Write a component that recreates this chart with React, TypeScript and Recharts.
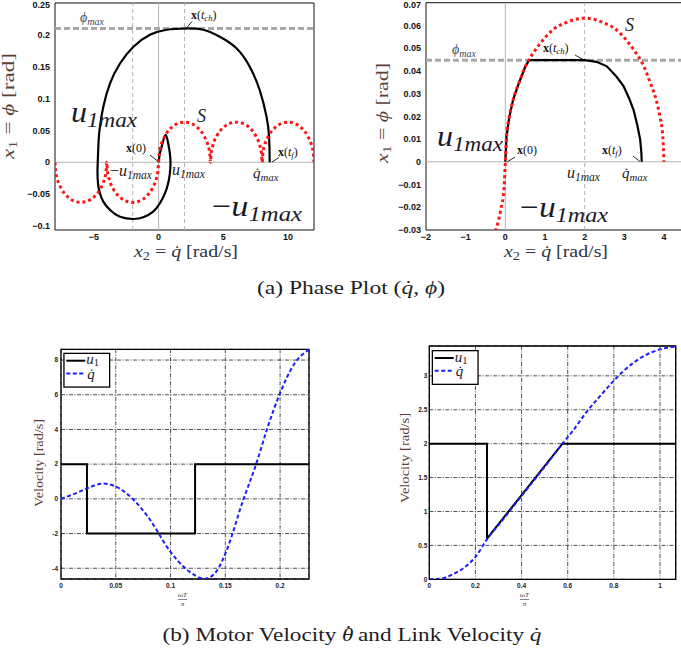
import React from 'react';
import {
  ComposedChart,
  Line,
  XAxis,
  YAxis,
  ReferenceLine,
  ReferenceArea,
  CartesianGrid,
} from 'recharts';

// ---------- (a) phase plane, large swing: x2 = q̇ [rad/s], x1 = ϕ [rad] ----------
const leftQdTicks = [-5, 0, 5, 10];
const leftPhiTicks = [-0.1, -0.05, 0, 0.05, 0.1, 0.15, 0.2, 0.25];
const LEFT_QD_DOMAIN = [-8, 12];
const LEFT_PHI_DOMAIN = [-0.1063, 0.25];
const LEFT_PHI_MAX = 0.21;
const LEFT_GUIDES_QD = [-2, 2];

// switching curve S (chain of arches through the zero crossings)
const leftSwitchCurve = [
  { qd: -8, phi: 0 }, { qd: -7.95, phi: -0.014 }, { qd: -7.8, phi: -0.0275 }, { qd: -7.5, phi: -0.0417 },
  { qd: -7, phi: -0.0546 }, { qd: -6.5, phi: -0.061 }, { qd: -6, phi: -0.063 }, { qd: -5.5, phi: -0.061 },
  { qd: -5, phi: -0.0546 }, { qd: -4.5, phi: -0.0417 }, { qd: -4.2, phi: -0.0275 }, { qd: -4.05, phi: -0.014 },
  { qd: -4, phi: 0 },
  { qd: -3.95, phi: -0.014 }, { qd: -3.8, phi: -0.0275 }, { qd: -3.5, phi: -0.0417 }, { qd: -3, phi: -0.0546 },
  { qd: -2.5, phi: -0.061 }, { qd: -2, phi: -0.063 }, { qd: -1.5, phi: -0.061 }, { qd: -1, phi: -0.0546 },
  { qd: -0.5, phi: -0.0417 }, { qd: -0.2, phi: -0.0275 }, { qd: -0.05, phi: -0.014 },
  { qd: 0, phi: 0 },
  { qd: 0.05, phi: 0.014 }, { qd: 0.2, phi: 0.0275 }, { qd: 0.5, phi: 0.0417 }, { qd: 1, phi: 0.0546 },
  { qd: 1.5, phi: 0.061 }, { qd: 2, phi: 0.063 }, { qd: 2.5, phi: 0.061 }, { qd: 3, phi: 0.0546 },
  { qd: 3.5, phi: 0.0417 }, { qd: 3.8, phi: 0.0275 }, { qd: 3.95, phi: 0.014 },
  { qd: 4, phi: 0 },
  { qd: 4.05, phi: 0.014 }, { qd: 4.2, phi: 0.0275 }, { qd: 4.5, phi: 0.0417 }, { qd: 5, phi: 0.0546 },
  { qd: 5.5, phi: 0.061 }, { qd: 6, phi: 0.063 }, { qd: 6.5, phi: 0.061 }, { qd: 7, phi: 0.0546 },
  { qd: 7.5, phi: 0.0417 }, { qd: 7.8, phi: 0.0275 }, { qd: 7.95, phi: 0.014 },
  { qd: 8, phi: 0 },
  { qd: 8.05, phi: 0.014 }, { qd: 8.2, phi: 0.0275 }, { qd: 8.5, phi: 0.0417 }, { qd: 9, phi: 0.0546 },
  { qd: 9.5, phi: 0.061 }, { qd: 10, phi: 0.063 }, { qd: 10.5, phi: 0.061 }, { qd: 11, phi: 0.0546 },
  { qd: 11.5, phi: 0.0417 }, { qd: 11.8, phi: 0.0275 }, { qd: 11.95, phi: 0.014 },
  { qd: 12, phi: 0 },
];

// optimal trajectory from x(0) through x(t_ch) to x(t_f)
const leftTrajectory = [
  { qd: 0, phi: 0 }, { qd: 0.1, phi: 0.014 }, { qd: 0.31, phi: 0.03 }, { qd: 0.54, phi: 0.0429 },
  { qd: 0.74, phi: 0.0298 }, { qd: 0.87, phi: 0.0141 }, { qd: 0.92, phi: -0.0016 }, { qd: 0.87, phi: -0.0173 },
  { qd: 0.74, phi: -0.033 }, { qd: 0.49, phi: -0.0487 }, { qd: 0.1, phi: -0.0644 }, { qd: -0.42, phi: -0.0775 },
  { qd: -1.19, phi: -0.0864 }, { qd: -1.96, phi: -0.089 }, { qd: -2.98, phi: -0.0854 }, { qd: -3.75, phi: -0.0749 },
  { qd: -4.27, phi: -0.0618 }, { qd: -4.53, phi: -0.0487 }, { qd: -4.68, phi: -0.033 }, { qd: -4.72, phi: -0.015 },
  { qd: -4.7, phi: 0 }, { qd: -4.63, phi: 0.035 }, { qd: -4.53, phi: 0.056 }, { qd: -4.27, phi: 0.087 },
  { qd: -3.75, phi: 0.124 }, { qd: -2.98, phi: 0.155 }, { qd: -1.96, phi: 0.181 }, { qd: -0.67, phi: 0.2 },
  { qd: 0.62, phi: 0.208 }, { qd: 2.03, phi: 0.21 }, { qd: 3.44, phi: 0.208 }, { qd: 4.73, phi: 0.197 },
  { qd: 6.01, phi: 0.179 }, { qd: 7.04, phi: 0.15 }, { qd: 7.81, phi: 0.113 }, { qd: 8.33, phi: 0.072 },
  { qd: 8.53, phi: 0.04 }, { qd: 8.58, phi: 0 },
];

// ---------- (a) phase plane, small swing ----------
const rightQdTicks = [-2, -1, 0, 1, 2, 3, 4];
const rightPhiTicks = [-0.03, -0.02, -0.01, 0, 0.01, 0.02, 0.03, 0.04, 0.05, 0.06, 0.07];
const RIGHT_QD_DOMAIN = [-2, 4.5];
const RIGHT_PHI_DOMAIN = [-0.03, 0.07];
const RIGHT_PHI_MAX = 0.0447;
const RIGHT_GUIDE_QD = 2;

const rightSwitchCurve = [
  { qd: -0.25, phi: -0.0305 }, { qd: -0.12, phi: -0.0215 }, { qd: -0.03, phi: -0.011 }, { qd: 0, phi: 0 },
  { qd: 0.03, phi: 0.011 }, { qd: 0.1, phi: 0.0197 }, { qd: 0.2, phi: 0.0275 }, { qd: 0.35, phi: 0.035 },
  { qd: 0.5, phi: 0.0417 }, { qd: 0.75, phi: 0.049 }, { qd: 1, phi: 0.0546 }, { qd: 1.25, phi: 0.0588 },
  { qd: 1.5, phi: 0.061 }, { qd: 1.75, phi: 0.0626 }, { qd: 2, phi: 0.0632 }, { qd: 2.25, phi: 0.0626 },
  { qd: 2.5, phi: 0.061 }, { qd: 2.75, phi: 0.0588 }, { qd: 3, phi: 0.0546 }, { qd: 3.25, phi: 0.049 },
  { qd: 3.5, phi: 0.0417 }, { qd: 3.65, phi: 0.035 }, { qd: 3.8, phi: 0.0275 }, { qd: 3.9, phi: 0.0197 },
  { qd: 3.97, phi: 0.011 }, { qd: 4, phi: 0 },
];

const rightTrajectory = [
  { qd: 0, phi: 0 }, { qd: 0.03, phi: 0.011 }, { qd: 0.1, phi: 0.0197 }, { qd: 0.2, phi: 0.0275 },
  { qd: 0.35, phi: 0.035 }, { qd: 0.5, phi: 0.0417 }, { qd: 0.6, phi: 0.0447 }, { qd: 1.2, phi: 0.0447 },
  { qd: 2.0, phi: 0.0447 }, { qd: 2.3, phi: 0.044 }, { qd: 2.56, phi: 0.042 }, { qd: 2.8, phi: 0.0375 },
  { qd: 2.98, phi: 0.0333 }, { qd: 3.12, phi: 0.028 }, { qd: 3.23, phi: 0.023 }, { qd: 3.33, phi: 0.016 },
  { qd: 3.4, phi: 0.0098 }, { qd: 3.43, phi: 0.004 }, { qd: 3.44, phi: 0 },
];

// ---------- (b) velocities over ωT/π ----------
const leftTimeTicks = [0, 0.05, 0.1, 0.15, 0.2];
const leftVelTicks = [-4, -2, 0, 2, 4, 6, 8];
const LEFT_TIME_DOMAIN = [0, 0.2264];
const LEFT_VEL_DOMAIN = [-4.62, 8.62];

const leftMotorU1 = [
  { t: 0, v: 2 }, { t: 0.0237, v: 2 }, { t: 0.0237, v: -2 }, { t: 0.1224, v: -2 },
  { t: 0.1224, v: 2 }, { t: 0.2264, v: 2 },
];
const leftLinkQd = [
  { t: 0, v: 0 }, { t: 0.0146, v: 0.35 }, { t: 0.0237, v: 0.6 }, { t: 0.0386, v: 0.88 },
  { t: 0.0494, v: 0.73 }, { t: 0.066, v: -0.04 }, { t: 0.0811, v: -1.19 }, { t: 0.0993, v: -3.0 },
  { t: 0.1147, v: -4.07 }, { t: 0.1314, v: -4.6 }, { t: 0.142, v: -4.17 }, { t: 0.151, v: -3.0 },
  { t: 0.166, v: -0.13 }, { t: 0.1785, v: 2.07 }, { t: 0.188, v: 4.0 }, { t: 0.2, v: 6.1 },
  { t: 0.2135, v: 7.83 }, { t: 0.2264, v: 8.6 },
];

const rightTimeTicks = [0, 0.2, 0.4, 0.6, 0.8, 1];
const rightVelTicks = [0, 0.5, 1, 1.5, 2, 2.5, 3];
const RIGHT_TIME_DOMAIN = [0, 1.068];
const RIGHT_VEL_DOMAIN = [0, 3.44];

const rightMotorU1 = [
  { t: 0, v: 2 }, { t: 0.25, v: 2 }, { t: 0.25, v: 0.6 }, { t: 0.577, v: 2 }, { t: 1.068, v: 2 },
];
const rightLinkQd = [
  { t: 0, v: 0 }, { t: 0.05, v: 0.01 }, { t: 0.1, v: 0.07 }, { t: 0.15, v: 0.17 }, { t: 0.2, v: 0.33 },
  { t: 0.25, v: 0.59 }, { t: 0.3, v: 0.8 }, { t: 0.4, v: 1.23 }, { t: 0.5, v: 1.66 }, { t: 0.577, v: 2.0 },
  { t: 0.62, v: 2.18 }, { t: 0.68, v: 2.46 }, { t: 0.74, v: 2.7 }, { t: 0.8, v: 2.93 }, { t: 0.88, v: 3.18 },
  { t: 0.94, v: 3.31 }, { t: 1.0, v: 3.39 }, { t: 1.068, v: 3.43 },
];

// ---------- styling ----------
const SERIF = '"Liberation Serif", "DejaVu Serif", serif';
const SANS = '"Liberation Sans", Arial, sans-serif';
const RED = '#ff1414';
const BLUE = '#1c1cff';
const GUIDE = '#b4b4b4';
const LABEL_BROWN = '#5c3e37';
const LABEL_SLATE = '#2e3347';
const INK = '#1a1a2a';

const U1_STYLE = { stroke: '#000', strokeWidth: 2, strokeDasharray: undefined as string | undefined };
const QD_STYLE = { stroke: BLUE, strokeWidth: 2, strokeDasharray: '4 2.5' };

const bigTick = { fontSize: 9, fontWeight: 700, fill: '#111', fontFamily: SANS };
const smallTick = { fontSize: 6.5, fontWeight: 700, fill: '#222', fontFamily: SANS };

const fmtMinus = (v: number) => (v < 0 ? '−' + String(Math.abs(v)) : String(v));
const fmtHyphen = (v: number) => String(v);

function PhaseLeft() {
  return (
    <ComposedChart width={330} height={270} margin={{ top: 3, right: 16, bottom: 0, left: 0 }}>
      <XAxis type="number" dataKey="qd" domain={LEFT_QD_DOMAIN} ticks={leftQdTicks} allowDataOverflow
        height={40} axisLine={false} tickLine={false} tickSize={0} tickMargin={4} tick={bigTick} tickFormatter={fmtMinus} />
      <YAxis type="number" domain={LEFT_PHI_DOMAIN} ticks={leftPhiTicks} allowDataOverflow
        width={55} axisLine={false} tickLine={false} tickSize={0} tickMargin={5} tick={bigTick} tickFormatter={fmtMinus} />
      <ReferenceLine x={0} stroke={GUIDE} strokeWidth={1} />
      <ReferenceLine y={0} stroke={GUIDE} strokeWidth={1} />
      {LEFT_GUIDES_QD.map((g) => (
        <ReferenceLine key={g} x={g} stroke={GUIDE} strokeWidth={1} strokeDasharray="4 3" />
      ))}
      <ReferenceLine y={LEFT_PHI_MAX} stroke="#a9a9a9" strokeWidth={3} strokeDasharray="6 3" />
      <Line data={leftTrajectory} dataKey="phi" type="natural" stroke="#000" strokeWidth={2.2}
        dot={false} isAnimationActive={false} />
      <Line data={leftSwitchCurve} dataKey="phi" type="monotone" stroke={RED} strokeWidth={3}
        strokeDasharray="3 3" dot={false} isAnimationActive={false} />
      <ReferenceArea x1={LEFT_QD_DOMAIN[0]} x2={LEFT_QD_DOMAIN[1]} y1={LEFT_PHI_DOMAIN[0]} y2={LEFT_PHI_DOMAIN[1]}
        fill="none" stroke="#111" strokeWidth={1} />
    </ComposedChart>
  );
}

function PhaseRight() {
  return (
    <ComposedChart width={350} height={270} margin={{ top: 2.7, right: 6.2, bottom: 0, left: 0 }}>
      <XAxis type="number" dataKey="qd" domain={RIGHT_QD_DOMAIN} ticks={rightQdTicks} allowDataOverflow
        height={40} axisLine={false} tickLine={false} tickSize={0} tickMargin={4} tick={bigTick} tickFormatter={fmtMinus} />
      <YAxis type="number" domain={RIGHT_PHI_DOMAIN} ticks={rightPhiTicks} allowDataOverflow
        width={86} axisLine={false} tickLine={false} tickSize={0} tickMargin={5} tick={bigTick} tickFormatter={fmtMinus} />
      <ReferenceLine x={0} stroke={GUIDE} strokeWidth={1} />
      <ReferenceLine y={0} stroke={GUIDE} strokeWidth={1} />
      <ReferenceLine x={RIGHT_GUIDE_QD} stroke={GUIDE} strokeWidth={1} strokeDasharray="4 3" />
      <ReferenceLine y={RIGHT_PHI_MAX} stroke="#a9a9a9" strokeWidth={3} strokeDasharray="6 3" />
      <Line data={rightTrajectory} dataKey="phi" type="linear" stroke="#000" strokeWidth={2.2}
        dot={false} isAnimationActive={false} />
      <Line data={rightSwitchCurve} dataKey="phi" type="monotone" stroke={RED} strokeWidth={3}
        strokeDasharray="3 3" dot={false} isAnimationActive={false} />
      <ReferenceArea x1={RIGHT_QD_DOMAIN[0]} x2={RIGHT_QD_DOMAIN[1]} y1={RIGHT_PHI_DOMAIN[0]} y2={RIGHT_PHI_DOMAIN[1]}
        fill="none" stroke="#111" strokeWidth={1} />
    </ComposedChart>
  );
}

function VelocityLeft() {
  return (
    <ComposedChart width={320} height={280} margin={{ top: 19.3, right: 11, bottom: 0, left: 0 }}>
      <CartesianGrid stroke="#000" strokeWidth={0.7} strokeDasharray="4 1.5 1 1.5" />
      <XAxis type="number" dataKey="t" domain={LEFT_TIME_DOMAIN} ticks={leftTimeTicks} allowDataOverflow
        height={31} axisLine={false} tickLine={false} tickSize={0} tickMargin={4} tick={smallTick} tickFormatter={fmtHyphen} />
      <YAxis type="number" domain={LEFT_VEL_DOMAIN} ticks={leftVelTicks} allowDataOverflow
        width={61} axisLine={false} tickLine={false} tickSize={0} tickMargin={3} tick={smallTick} tickFormatter={fmtHyphen} />
      <Line data={leftMotorU1} dataKey="v" name="u1" type="linear" {...U1_STYLE}
        dot={false} isAnimationActive={false} />
      <Line data={leftLinkQd} dataKey="v" name="q̇" type="monotone" {...QD_STYLE}
        dot={false} isAnimationActive={false} />
      <ReferenceArea x1={LEFT_TIME_DOMAIN[0]} x2={LEFT_TIME_DOMAIN[1]} y1={LEFT_VEL_DOMAIN[0]} y2={LEFT_VEL_DOMAIN[1]}
        fill="none" stroke="#000" strokeWidth={1.3} />
    </ComposedChart>
  );
}

function VelocityRight() {
  return (
    <ComposedChart width={341} height={280} margin={{ top: 16, right: 5.3, bottom: 0, left: 0 }}>
      <CartesianGrid stroke="#000" strokeWidth={0.7} strokeDasharray="4 1.5 1 1.5" />
      <XAxis type="number" dataKey="t" domain={RIGHT_TIME_DOMAIN} ticks={rightTimeTicks} allowDataOverflow
        height={30.7} axisLine={false} tickLine={false} tickSize={0} tickMargin={4} tick={smallTick} tickFormatter={fmtHyphen} />
      <YAxis type="number" domain={RIGHT_VEL_DOMAIN} ticks={rightVelTicks} allowDataOverflow
        width={89.3} axisLine={false} tickLine={false} tickSize={0} tickMargin={2} tick={smallTick} tickFormatter={fmtHyphen} />
      <Line data={rightMotorU1} dataKey="v" name="u1" type="linear" {...U1_STYLE}
        dot={false} isAnimationActive={false} />
      <Line data={rightLinkQd} dataKey="v" name="q̇" type="monotone" {...QD_STYLE}
        dot={false} isAnimationActive={false} />
      <ReferenceArea x1={RIGHT_TIME_DOMAIN[0]} x2={RIGHT_TIME_DOMAIN[1]} y1={RIGHT_VEL_DOMAIN[0]} y2={RIGHT_VEL_DOMAIN[1]}
        fill="none" stroke="#000" strokeWidth={1.3} />
    </ComposedChart>
  );
}

// ---------- typeset labels ----------
type Part = { t: string; it?: boolean; sub?: boolean; bold?: boolean; dx?: number; dy?: number };

function MathText({
  x, y, size, parts, fill = '#111', anchor = 'start', rotate = 0, length, subScale = 0.72, drop = 0.2,
}: {
  x: number; y: number; size: number; parts: Part[]; fill?: string; anchor?: string;
  rotate?: number; length?: number; subScale?: number; drop?: number;
}) {
  let shifted = false;
  const spans = parts.map((p, i) => {
    let dy = p.dy ?? 0;
    if (p.sub && !shifted) { dy += size * drop; shifted = true; }
    else if (!p.sub && shifted) { dy -= size * drop; shifted = false; }
    return (
      <tspan key={i} dx={p.dx} dy={dy || undefined} fontSize={p.sub ? size * subScale : size}
        fontStyle={p.it ? 'italic' : 'normal'} fontWeight={p.bold ? 700 : 400}>{p.t}</tspan>
    );
  });
  return (
    <text x={x} y={y} fontFamily={SERIF} fill={fill} textAnchor={anchor as any}
      transform={rotate ? `rotate(${rotate} ${x} ${y})` : undefined}
      textLength={length} lengthAdjust={length ? 'spacingAndGlyphs' : undefined}
      style={{ whiteSpace: 'pre' }}>
      {spans}
    </text>
  );
}

const u1max: Part[] = [{ t: 'u', it: true }, { t: '1max', it: true, sub: true }];
const negU1max: Part[] = [{ t: '−' }, { t: 'u', it: true }, { t: '1max', it: true, sub: true }];
const phiMax: Part[] = [{ t: 'ϕ', it: true }, { t: 'max', it: true, sub: true }];
const qdMax: Part[] = [{ t: 'q̇', it: true }, { t: 'max', it: true, sub: true }];
const xTch: Part[] = [{ t: 'x', bold: true }, { t: '(' }, { t: 't', it: true }, { t: 'ch', it: true, sub: true }, { t: ')' }];
const xTf: Part[] = [{ t: 'x', bold: true }, { t: '(' }, { t: 't', it: true }, { t: 'f', it: true, sub: true }, { t: ')' }];
const x0: Part[] = [{ t: 'x', bold: true }, { t: '(0)' }];
const phiAxis: Part[] = [{ t: 'x', it: true }, { t: '1', sub: true }, { t: ' = ' }, { t: 'ϕ', it: true }, { t: ' [rad]' }];
const qdAxis: Part[] = [{ t: 'x', it: true }, { t: '2', sub: true }, { t: ' = ' }, { t: 'q̇', it: true }, { t: ' [rad/s]' }];

function Leader({ x1, y1, x2, y2 }: { x1: number; y1: number; x2: number; y2: number }) {
  return <line x1={x1} y1={y1} x2={x2} y2={y2} stroke="#111" strokeWidth={0.9} />;
}

// boxed key for the velocity plots, using the same line styles as the series
function VelocityKey({ x, y }: { x: number; y: number }) {
  return (
    <g transform={`translate(${x} ${y})`}>
      <rect x={0.65} y={0.65} width={45.7} height={33.7} fill="#fff" stroke="#000" strokeWidth={1.3} />
      <line x1={3} x2={22} y1={8} y2={8} {...U1_STYLE} />
      <text x={23} y={11.5} fontFamily={SERIF} fill={INK}>
        <tspan fontSize={15} fontStyle="italic">u</tspan>
        <tspan fontSize={10.5} dy={2}>1</tspan>
      </text>
      <line x1={3} x2={20} y1={20.7} y2={20.7} {...QD_STYLE} />
      <text x={24} y={26} fontFamily={SERIF} fontSize={15} fontStyle="italic" fill={INK}>q̇</text>
    </g>
  );
}

function Annotations() {
  return (
    <svg width={681} height={657} style={{ position: 'absolute', left: 0, top: 0, pointerEvents: 'none' }}>
      {/* left phase plane */}
      <MathText x={80} y={22} size={14} parts={phiMax} fill="#3d4a5e" />
      <MathText x={191} y={19} size={12} parts={xTch} />
      <Leader x1={192} y1={21.5} x2={187} y2={27.5} />
      <MathText x={197} y={122} size={18} parts={[{ t: 'S', it: true }]} fill="#222" />
      <MathText x={71} y={122} size={30} parts={u1max} length={66} drop={0.15} fill={INK} />
      <MathText x={126} y={152} size={12} parts={x0} />
      <Leader x1={150} y1={155} x2={157.5} y2={161} />
      <MathText x={110} y={176} size={16} parts={negU1max} fill={INK} />
      <MathText x={172} y={175} size={16} parts={u1max} fill={INK} />
      <MathText x={278} y={156} size={12} parts={xTf} />
      <Leader x1={279} y1={157.5} x2={272} y2={162} />
      <MathText x={253} y={178} size={15} parts={qdMax} fill={INK} />
      <MathText x={212} y={216} size={30} parts={negU1max} length={90} drop={0.15} fill={INK} />
      <MathText x={14} y={106} size={17} parts={phiAxis} length={106} anchor="middle" rotate={-90} fill={LABEL_BROWN} />
      <MathText x={186} y={257} size={17} parts={qdAxis} length={104} anchor="middle" fill={LABEL_SLATE} />

      {/* right phase plane */}
      <MathText x={452} y={54} size={14} parts={phiMax} fill="#3d4a5e" />
      <MathText x={543} y={52} size={12} parts={xTch} />
      <Leader x1={575} y1={55} x2={583} y2={59.5} />
      <MathText x={625} y={31} size={18} parts={[{ t: 'S', it: true }]} fill="#222" />
      <MathText x={437} y={146} size={30} parts={u1max} length={66} drop={0.15} fill={INK} />
      <MathText x={517} y={154} size={12} parts={x0} />
      <Leader x1={515} y1={157} x2={507} y2={162} />
      <MathText x={602} y={154} size={12} parts={xTf} />
      <Leader x1={633} y1={156} x2={640} y2={161.5} />
      <MathText x={567} y={178} size={16} parts={u1max} fill={INK} />
      <MathText x={622} y={178} size={15} parts={qdMax} fill={INK} />
      <MathText x={520} y={217} size={30} parts={negU1max} length={88} drop={0.15} fill={INK} />
      <MathText x={388} y={113} size={17} parts={phiAxis} length={100} anchor="middle" rotate={-90} fill={LABEL_BROWN} />
      <MathText x={556} y={257} size={17} parts={qdAxis} length={104} anchor="middle" fill={LABEL_SLATE} />

      <MathText x={351} y={294} size={18} length={188} anchor="middle" fill="#1e1e1e"
        parts={[{ t: '(a) Phase Plot (' }, { t: 'q̇', it: true }, { t: ', ' }, { t: 'ϕ', it: true }, { t: ')' }]} />

      {/* velocity plots */}
      <VelocityKey x={63.3} y={352.7} />
      <VelocityKey x={431.7} y={350} />
      <MathText x={43} y={463} size={13} length={88} parts={[{ t: 'Velocity [rad/s]' }]} anchor="middle" rotate={-90} fill={LABEL_BROWN} />
      <MathText x={182.5} y={597} size={7} parts={[{ t: 'ωT', it: true }]} anchor="middle" fill={LABEL_SLATE} />
      <line x1={178} x2={187} y1={599.5} y2={599.5} stroke={LABEL_SLATE} strokeWidth={0.6} />
      <MathText x={182.5} y={606} size={7} parts={[{ t: 'π', it: true }]} anchor="middle" fill={LABEL_SLATE} />

      <MathText x={409} y={458} size={13} length={90} parts={[{ t: 'Velocity [rad/s]' }]} anchor="middle" rotate={-90} fill={LABEL_BROWN} />
      <MathText x={524.5} y={597} size={7} parts={[{ t: 'ωT', it: true }]} anchor="middle" fill={LABEL_SLATE} />
      <line x1={520} x2={529} y1={599.5} y2={599.5} stroke={LABEL_SLATE} strokeWidth={0.6} />
      <MathText x={524.5} y={606} size={7} parts={[{ t: 'π', it: true }]} anchor="middle" fill={LABEL_SLATE} />

      <MathText x={352} y={641} size={18} length={379} anchor="middle" fill="#1e1e1e"
        parts={[
          { t: '(b) Motor Velocity ' }, { t: 'θ', it: true }, { t: '˙', dx: -7, dy: -2 },
          { t: ' and Link Velocity ', dy: 2 }, { t: 'q̇', it: true },
        ]} />
    </svg>
  );
}

export default function App() {
  return (
    <div style={{ position: 'fixed', left: 0, top: 0, width: 681, height: 657, overflow: 'hidden', background: '#fff' }}>
      <div style={{ position: 'absolute', left: 0, top: 0 }}><PhaseLeft /></div>
      <div style={{ position: 'absolute', left: 340, top: 0 }}><PhaseRight /></div>
      <div style={{ position: 'absolute', left: 0, top: 330 }}><VelocityLeft /></div>
      <div style={{ position: 'absolute', left: 340, top: 330 }}><VelocityRight /></div>
      <Annotations />
    </div>
  );
}
